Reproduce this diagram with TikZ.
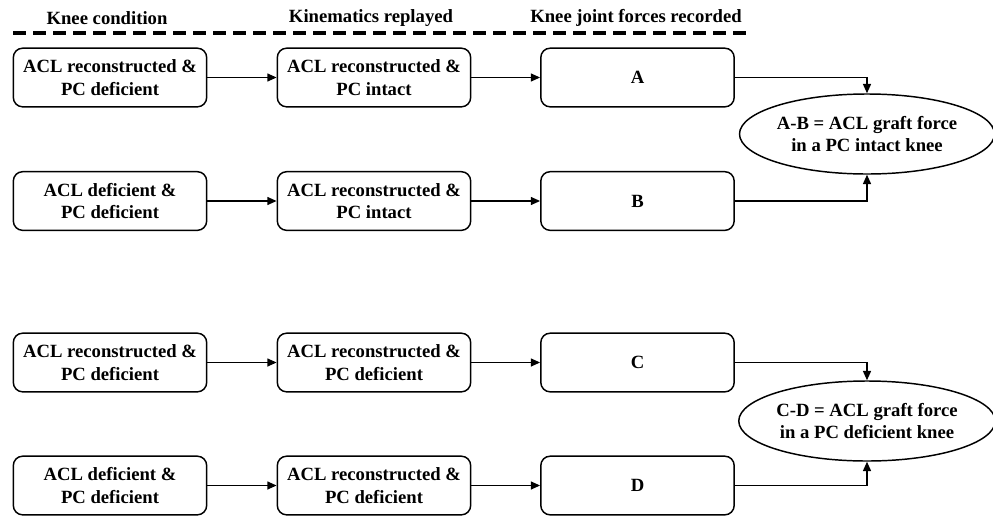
\documentclass[tikz,border=0pt]{standalone}
\usepackage{fontspec}
\setmainfont{Liberation Serif}
\usetikzlibrary{shapes.geometric,arrows.meta}
\tikzset{
  cond/.style={draw,line width=1.1pt,rounded corners=7pt,minimum width=145pt,minimum height=44pt,align=center,inner sep=1pt},
  res/.style={draw,ellipse,line width=1.1pt,minimum width=185pt,minimum height=60pt,align=center,inner sep=0pt},
  arr/.style={line width=1.1pt,-{Triangle[length=7pt,width=6pt]}},
  head/.style={font=\fontsize{14}{17}\selectfont\bfseries}
}
\begin{document}
\begin{tikzpicture}[x=0.75pt,y=-0.75pt,font=\fontsize{14}{17}\selectfont\bfseries]
\useasboundingbox (0,0) rectangle (993,515);
%headings
\node[head] (h1) at (107,18) {Knee condition};
\node[head] (h2) at (371,18) {Kinematics replayed};
\node[head] (h3) at (636,18) {Knee joint forces recorded};
\draw[line width=2.3pt,dash pattern=on 10pt off 5pt] (13,33)--(749,33);
%upper pair
\node[cond] (k1) at (110,77.5) {ACL reconstructed \&\\PC deficient};
\node[cond] (r1) at (374,77.5) {ACL reconstructed \&\\PC intact};
\node[cond] (A) at (637.5,77.5) {A};
\node[cond] (k2) at (110,201) {ACL deficient \&\\PC deficient};
\node[cond] (r2) at (374,201) {ACL reconstructed \&\\PC intact};
\node[cond] (B) at (637.5,201) {B};
\node[res] (AB) at (867,134) {A-B = ACL graft force\\in a PC intact knee};
%lower pair
\node[cond] (k3) at (110,362.5) {ACL reconstructed \&\\PC deficient};
\node[cond] (r3) at (374,362.5) {ACL reconstructed \&\\PC deficient};
\node[cond] (C) at (637.5,362.5) {C};
\node[cond] (k4) at (110,485.5) {ACL deficient \&\\PC deficient};
\node[cond] (r4) at (374,485.5) {ACL reconstructed \&\\PC deficient};
\node[cond] (D) at (637.5,485.5) {D};
\node[res] (CD) at (867,421) {C-D = ACL graft force\\in a PC deficient knee};
%arrows
\draw[arr] (k1)--(r1);
\draw[arr] (r1)--(A);
\draw[arr] (k2)--(r2);
\draw[arr] (r2)--(B);
\draw[arr] (k3)--(r3);
\draw[arr] (r3)--(C);
\draw[arr] (k4)--(r4);
\draw[arr] (r4)--(D);
\draw[arr] (A.east)-|(AB.north);
\draw[arr] (B.east)-|(AB.south);
\draw[arr] (C.east)-|(CD.north);
\draw[arr] (D.east)-|(CD.south);
\end{tikzpicture}
\end{document}
